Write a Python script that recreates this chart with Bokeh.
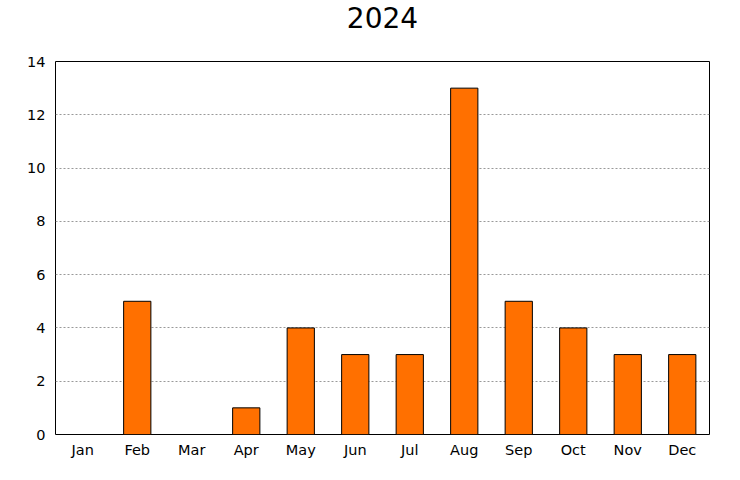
from bokeh.embed import file_html
from bokeh.resources import INLINE
from bokeh.models import ColumnDataSource, FixedTicker, Range1d, Title
from bokeh.plotting import figure

months = ["Jan", "Feb", "Mar", "Apr", "May", "Jun",
          "Jul", "Aug", "Sep", "Oct", "Nov", "Dec"]
counts = [0, 5, 0, 1, 4, 3, 3, 13, 5, 4, 3, 3]
y_ticks = [0, 2, 4, 6, 8, 10, 12, 14]

source = ColumnDataSource(dict(month=months, count=counts))

p = figure(x_range=months, y_range=Range1d(0, 14), width=724, height=464,
           output_backend="svg", toolbar_location=None,
           min_border_left=55, min_border_right=15, min_border_top=61,
           min_border_bottom=30)

p.vbar(x="month", top="count", width=0.5, source=source,
       fill_color="#FF7000", line_color="black", line_width=1)

# empty spacer title pushes the real title up, away from the frame
p.add_layout(Title(text=" ", text_font_size="29px", standoff=0), "above")
p.add_layout(Title(text="2024", align="center", text_font="DejaVu Sans",
                   text_font_size="28px", text_font_style="normal",
                   text_color="black", standoff=0), "above")

# frame
p.outline_line_color = "black"
p.outline_line_width = 1
p.outline_line_alpha = 1

# axes
for ax in (p.xaxis, p.yaxis):
    ax.axis_line_color = None
    ax.major_tick_line_color = None
    ax.minor_tick_line_color = None
    ax.major_tick_out = 0
    ax.minor_tick_out = 0
    ax.major_label_text_font = "DejaVu Sans"
    ax.major_label_text_font_size = "14.5px"
    ax.major_label_text_color = "black"
p.yaxis.ticker = FixedTicker(ticks=y_ticks)
p.yaxis.major_label_standoff = 10
p.xaxis.major_label_standoff = 7

# grid
p.xgrid.grid_line_color = None
p.ygrid.ticker = FixedTicker(ticks=y_ticks)
p.ygrid.grid_line_color = "#999999"
p.ygrid.grid_line_dash = "2 2"
p.ygrid.grid_line_width = 1
p.x_range.range_padding = 0

open("out.html", "w").write(file_html(p, INLINE))
